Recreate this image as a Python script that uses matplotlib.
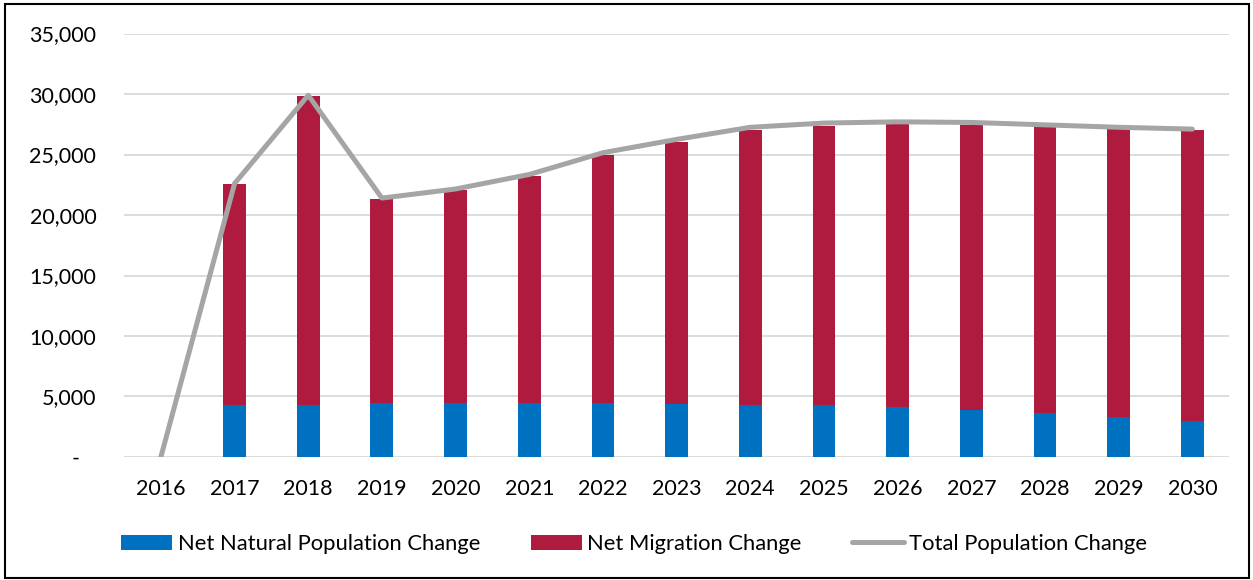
import matplotlib.pyplot as plt
import matplotlib.ticker as mticker
from matplotlib.patches import Rectangle
import numpy as np

# values
years = ['2016', '2017', '2018', '2019', '2020', '2021', '2022', '2023',
         '2024', '2025', '2026', '2027', '2028', '2029', '2030']
natural = [0, 4300, 4300, 4440, 4440, 4440, 4440, 4400,
           4320, 4270, 4110, 3880, 3610, 3280, 2950]
migration = [0, 18260, 25530, 16860, 17630, 18780, 20520, 21660,
             22700, 23110, 23390, 23560, 23640, 23790, 24070]
total = [0, 22600, 29900, 21400, 22150, 23350, 25150, 26250,
         27250, 27600, 27700, 27650, 27450, 27250, 27100]

plt.rcParams['font.family'] = ['Lato', 'DejaVu Sans']

fig = plt.figure(figsize=(12.53, 5.8), dpi=100)
ax = fig.add_axes([0.099, 0.2121, 0.882, 0.7301])

x = np.arange(len(years))
blue = '#0070C0'
red = '#AF1A3F'
grey = '#A5A5A5'

b1 = ax.bar(x, natural, width=0.31, color=blue, label='Net Natural Population Change', zorder=2)
b2 = ax.bar(x, migration, width=0.31, bottom=natural, color=red, label='Net Migration Change', zorder=2)
l1, = ax.plot(x, total, color=grey, lw=3.6, solid_capstyle='round', solid_joinstyle='round',
              label='Total Population Change', zorder=3)

ax.set_xlim(-0.5, len(years) - 0.5)
ax.set_ylim(0, 35000)
ax.yaxis.set_major_locator(mticker.MultipleLocator(5000))


def fmt(v, pos):
    if v == 0:
        return '-   '
    return f'{v:,.0f}'


ax.yaxis.set_major_formatter(mticker.FuncFormatter(fmt))
ax.set_xticks(x)
ax.set_xticklabels(years)
ax.tick_params(axis='both', length=0, labelsize=15.5, colors='#000000')
ax.tick_params(axis='y', pad=20)
ax.tick_params(axis='x', pad=16)

ax.grid(axis='y', color='#D9D9D9', lw=1.3, zorder=0)
ax.set_axisbelow(True)
for s in ax.spines.values():
    s.set_visible(False)

fig.legend(handles=[b1, b2, l1], loc='center', bbox_to_anchor=(0.506, 0.062), ncol=3,
           frameon=False, fontsize=15.8, handlelength=2.35, handletextpad=0.24,
           columnspacing=2.3)

# outer chart border
fig.patches.append(Rectangle((0.004, 0.003), 0.993, 0.990, transform=fig.transFigure,
                             fill=False, edgecolor='#000000', lw=1.5))

fig.savefig('out.png', dpi=100)
